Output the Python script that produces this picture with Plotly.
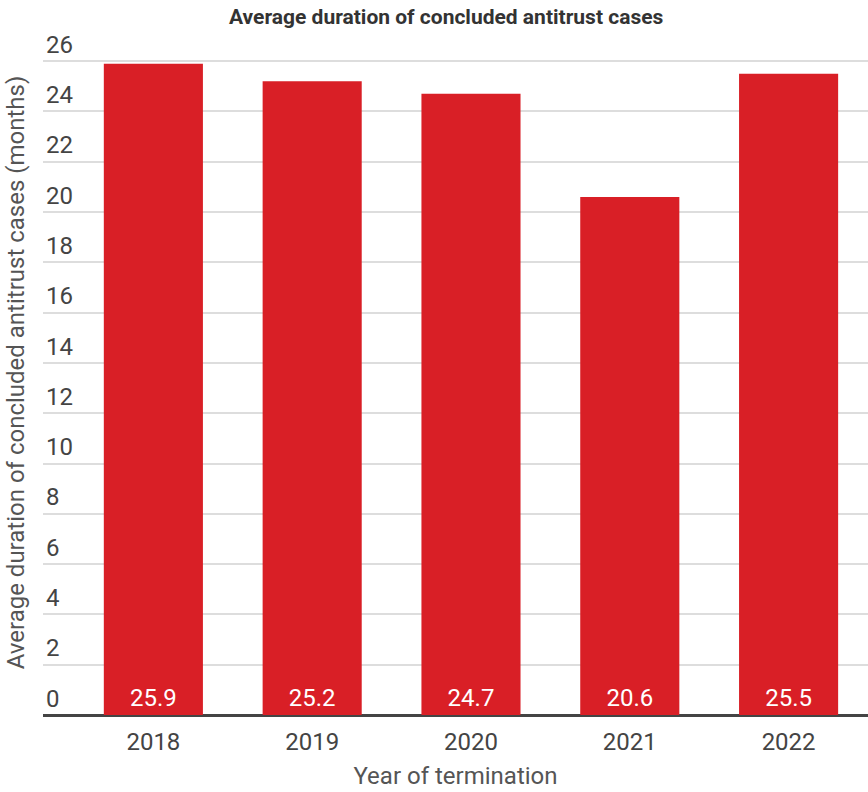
import plotly.graph_objects as go

years = ["2018", "2019", "2020", "2021", "2022"]
durations = [25.9, 25.2, 24.7, 20.6, 25.5]
labels = ["25.9", "25.2", "24.7", "20.6", "25.5"]
y_ticks = list(range(0, 27, 2))

fig = go.Figure(go.Bar(
    x=years, y=durations, text=labels,
    textposition="inside", insidetextanchor="start",
    textfont=dict(family="Roboto", size=24, color="white"),
    marker=dict(color="#d91f26", line=dict(width=0)),
    width=0.624, hoverinfo="skip", cliponaxis=False,
))

fig.update_layout(
    width=868, height=792,
    margin=dict(l=43, r=0, t=30, b=77),
    paper_bgcolor="white", plot_bgcolor="white",
    font=dict(family="Roboto", color="#444444"),
    title=dict(text="<b>Average duration of concluded antitrust cases</b>",
               x=0.514, xanchor="center", y=0.979, yanchor="middle",
               font=dict(family="Roboto", size=21, color="#333333")),
    showlegend=False,
    uniformtext=dict(mode="show", minsize=24),
)
fig.update_xaxes(
    type="category", range=[-0.695, 4.5],
    showgrid=False, showline=False, ticks="",
    ticklabelstandoff=10,
    tickfont=dict(family="Roboto", size=24, color="#444444"),
    title=dict(text="Year of termination", standoff=12,
               font=dict(family="Roboto", size=24, color="#555555")),
)
fig.update_yaxes(
    range=[0, 27.24], tickvals=y_ticks,
    ticklabelposition="inside top",
    showgrid=True, gridcolor="#dddddd", gridwidth=2,
    zeroline=True, zerolinecolor="#444444", zerolinewidth=3,
    tickfont=dict(family="Roboto", size=24, color="#444444"),
    title=dict(text="Average duration of concluded antitrust cases (months)", standoff=14,
               font=dict(family="Roboto", size=24, color="#555555")),
    automargin=False,
)

fig.write_html("out.html")
